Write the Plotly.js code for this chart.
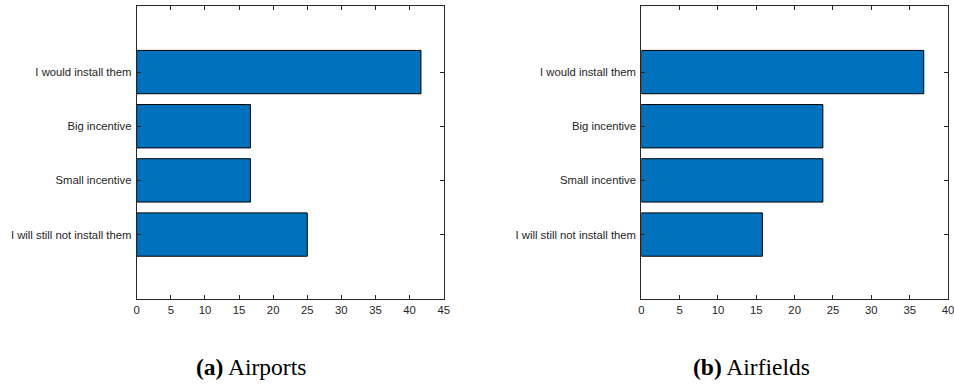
<!DOCTYPE html>
<html>
<head>
<meta charset="utf-8">
<script src="https://cdn.plot.ly/plotly-3.0.1.min.js"></script>
<style>
  html, body { margin: 0; padding: 0; background: #ffffff; }
  #chart { width: 954px; height: 385px; }
</style>
</head>
<body>
<div id="chart"></div>
<script>
// Survey answers, listed bottom to top as drawn on the category axis
const answers = [
  "I will still not install them",
  "Small incentive",
  "Big incentive",
  "I would install them"
];

// Share of respondents (%) per answer
const airportsShare = [25.0, 16.67, 16.67, 41.67];
const airfieldsShare = [15.79, 23.68, 23.68, 36.84];

// Panel captions
const captionA = "<b>(a)</b> Airports";
const captionB = "<b>(b)</b> Airfields";

const W = 954, H = 385;
const px = v => v / W;
const py = v => (H - v) / H;

const barColor = "#0072BD";
const axisColor = "#262626";
const tickFont = { family: "Liberation Sans, Arial, sans-serif", size: 11.3, color: axisColor };

function barTrace(values, xa, ya) {
  return {
    type: "bar",
    orientation: "h",
    y: answers,
    x: values,
    xaxis: xa,
    yaxis: ya,
    width: 0.8,
    marker: { color: barColor, line: { color: "#000000", width: 1 } },
    hoverinfo: "x+y",
    showlegend: false
  };
}

function xAxis(domain, maxVal, anchor) {
  return {
    domain: domain,
    anchor: anchor,
    range: [0, maxVal],
    tickmode: "linear",
    dtick: 5,
    tick0: 0,
    ticks: "inside",
    ticklen: 4,
    tickwidth: 1,
    tickcolor: axisColor,
    showline: true,
    linecolor: axisColor,
    linewidth: 1,
    mirror: "ticks",
    showgrid: false,
    zeroline: false,
    ticklabeloverflow: "allow",
    tickfont: tickFont,
    fixedrange: true
  };
}

function yAxis(domain, anchor) {
  return {
    domain: domain,
    anchor: anchor,
    type: "category",
    categoryorder: "array",
    categoryarray: answers,
    range: [-1.19, 4.22],
    ticks: "inside",
    ticklen: 4,
    tickwidth: 1,
    tickcolor: axisColor,
    showline: true,
    linecolor: axisColor,
    linewidth: 1,
    mirror: "ticks",
    showgrid: false,
    zeroline: false,
    ticklabelstandoff: 2,
    tickfont: tickFont,
    fixedrange: true
  };
}

const yDomain = [py(299), py(6)];

const data = [
  barTrace(airportsShare, "x", "y"),
  barTrace(airfieldsShare, "x2", "y2")
];

const captionFont = { family: "Liberation Serif, Times New Roman, serif", size: 23.5, color: "#000000" };

const layout = {
  width: W,
  height: H,
  margin: { l: 0, r: 0, t: 0, b: 0 },
  paper_bgcolor: "#ffffff",
  plot_bgcolor: "#ffffff",
  xaxis: xAxis([px(136.7), px(443.7)], 45, "y"),
  yaxis: yAxis(yDomain, "x"),
  xaxis2: xAxis([px(641.3), px(948)], 40, "y2"),
  yaxis2: yAxis(yDomain, "x2"),
  annotations: [
    {
      text: captionA, xref: "paper", yref: "paper",
      x: px(251), y: py(367), xanchor: "center", yanchor: "middle",
      showarrow: false, font: captionFont
    },
    {
      text: captionB, xref: "paper", yref: "paper",
      x: px(751.5), y: py(367), xanchor: "center", yanchor: "middle",
      showarrow: false, font: captionFont
    }
  ]
};

Plotly.newPlot("chart", data, layout, { displayModeBar: false, staticPlot: true });
</script>
</body>
</html>
